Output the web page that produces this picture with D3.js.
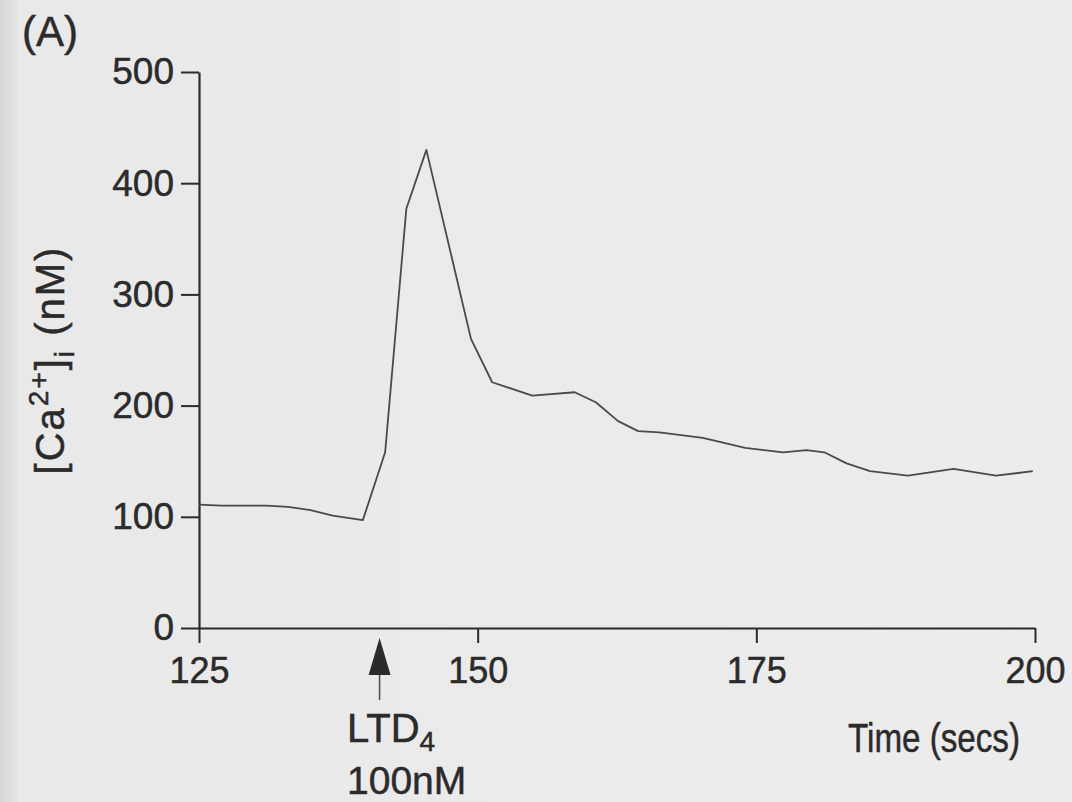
<!DOCTYPE html>
<html>
<head>
<meta charset="utf-8">
<script src="https://cdn.jsdelivr.net/npm/d3@7"></script>
<style>
  html, body { margin: 0; padding: 0; background: #ebebeb; }
  svg { display: block; font-family: "Liberation Sans", Arial, sans-serif; }
  text { stroke: #2b2b2b; stroke-width: 0.5px; }
</style>
</head>
<body>
<div id="chart"></div>
<script>
// Values
const times = [125, 127, 129, 131, 133, 135, 137, 139.7, 141.7, 143.6, 145.4, 149.4, 151.3,
  154.9, 158.7, 160.6, 162.6, 164.4, 166.3, 170.2, 174, 177.4, 179.5, 181.1, 183.1,
  185.2, 188.6, 192.7, 196.5, 199.8];
const calcium = [111, 110, 110, 110, 109, 106, 101, 97, 158, 377, 430, 260, 221,
  209, 212, 203, 186, 177, 176, 171, 162, 158, 160, 158, 148,
  141, 137, 143, 137, 141];
const xTicks = [125, 150, 175, 200];
const yTicks = [0, 100, 200, 300, 400, 500];
const stimulusTime = 141.2;

const width = 1072, height = 802;
const margin = { top: 72, right: 37, bottom: 174, left: 199 };

const svg = d3.select('#chart')
  .append('svg')
  .attr('width', width)
  .attr('height', height);

// paper background, slightly darker at the left edge
const grad = svg.append('defs').append('linearGradient').attr('id', 'paper');
grad.append('stop').attr('offset', '0%').attr('stop-color', '#d6d6d6');
grad.append('stop').attr('offset', '2%').attr('stop-color', '#e9e9e9');
grad.append('stop').attr('offset', '100%').attr('stop-color', '#ececec');
svg.append('rect').attr('width', width).attr('height', height).attr('fill', 'url(#paper)');

const x = d3.scaleLinear()
  .domain([125, 200])
  .range([margin.left, width - margin.right]);

const y = d3.scaleLinear()
  .domain([0, 500])
  .range([height - margin.bottom, margin.top]);

const ink = '#2b2b2b';
const font = '"Liberation Sans", Arial, sans-serif';

// X axis
const xAxis = svg.append('g')
  .attr('transform', `translate(0,${y(0)})`)
  .call(d3.axisBottom(x).tickValues(xTicks).tickSize(15).tickPadding(14).tickSizeOuter(0));
xAxis.select('.domain').attr('stroke', ink).attr('stroke-width', 2.2);
xAxis.selectAll('.tick line').attr('stroke', ink).attr('stroke-width', 2);
xAxis.selectAll('.tick text')
  .attr('fill', ink).attr('font-size', 36).attr('font-family', font);

// Y axis
const yAxis = svg.append('g')
  .attr('transform', `translate(${x(125)},0)`)
  .call(d3.axisLeft(y).tickValues(yTicks).tickSize(18).tickPadding(7).tickSizeOuter(0));
yAxis.select('.domain').attr('stroke', ink).attr('stroke-width', 2.2);
yAxis.selectAll('.tick line').attr('stroke', ink).attr('stroke-width', 2);
yAxis.selectAll('.tick text')
  .attr('fill', ink).attr('font-size', 37).attr('font-family', font);

// Trace
const line = d3.line()
  .x((d, i) => x(times[i]))
  .y(d => y(d))
  .curve(d3.curveLinear);

svg.append('path')
  .datum(calcium)
  .attr('fill', 'none')
  .attr('stroke', '#4a4a4a')
  .attr('stroke-width', 1.8)
  .attr('stroke-linejoin', 'round')
  .attr('d', line);

// Stimulus arrow
const ax = x(stimulusTime);
const ay = y(0) + 10;
svg.append('path')
  .attr('d', `M${ax},${ay} L${ax - 11},${ay + 37} L${ax + 11},${ay + 37} Z`)
  .attr('fill', ink);
svg.append('line')
  .attr('x1', ax).attr('x2', ax)
  .attr('y1', ay + 37).attr('y2', ay + 62)
  .attr('stroke', '#555').attr('stroke-width', 1.6);

const ltd = svg.append('text')
  .attr('x', 347).attr('y', 742)
  .attr('font-size', 40).attr('fill', ink)
  .text('LTD');
ltd.append('tspan').attr('font-size', 28).attr('dy', 9).text('4');

svg.append('text')
  .attr('x', 347).attr('y', 794)
  .attr('font-size', 39).attr('fill', ink)
  .text('100nM');

// Axis titles
svg.append('text')
  .attr('x', 848).attr('y', 752)
  .attr('textLength', 172)
  .attr('lengthAdjust', 'spacingAndGlyphs')
  .attr('font-size', 40).attr('fill', ink)
  .text('Time (secs)');

const yTitle = svg.append('text')
  .attr('transform', 'translate(64,360) rotate(-90)')
  .attr('text-anchor', 'middle')
  .attr('letter-spacing', 2)
  .attr('font-size', 40).attr('fill', ink);
yTitle.append('tspan').text('[Ca');
yTitle.append('tspan').attr('font-size', 28).attr('dy', -16).text('2+');
yTitle.append('tspan').attr('dy', 16).text(']');
yTitle.append('tspan').attr('font-size', 28).attr('dy', 10).text('i');
yTitle.append('tspan').attr('dy', -10).text(' (nM)');

// Panel label
svg.append('text')
  .attr('x', 22).attr('y', 46)
  .attr('font-size', 42).attr('fill', ink)
  .text('(A)');
</script>
</body>
</html>
